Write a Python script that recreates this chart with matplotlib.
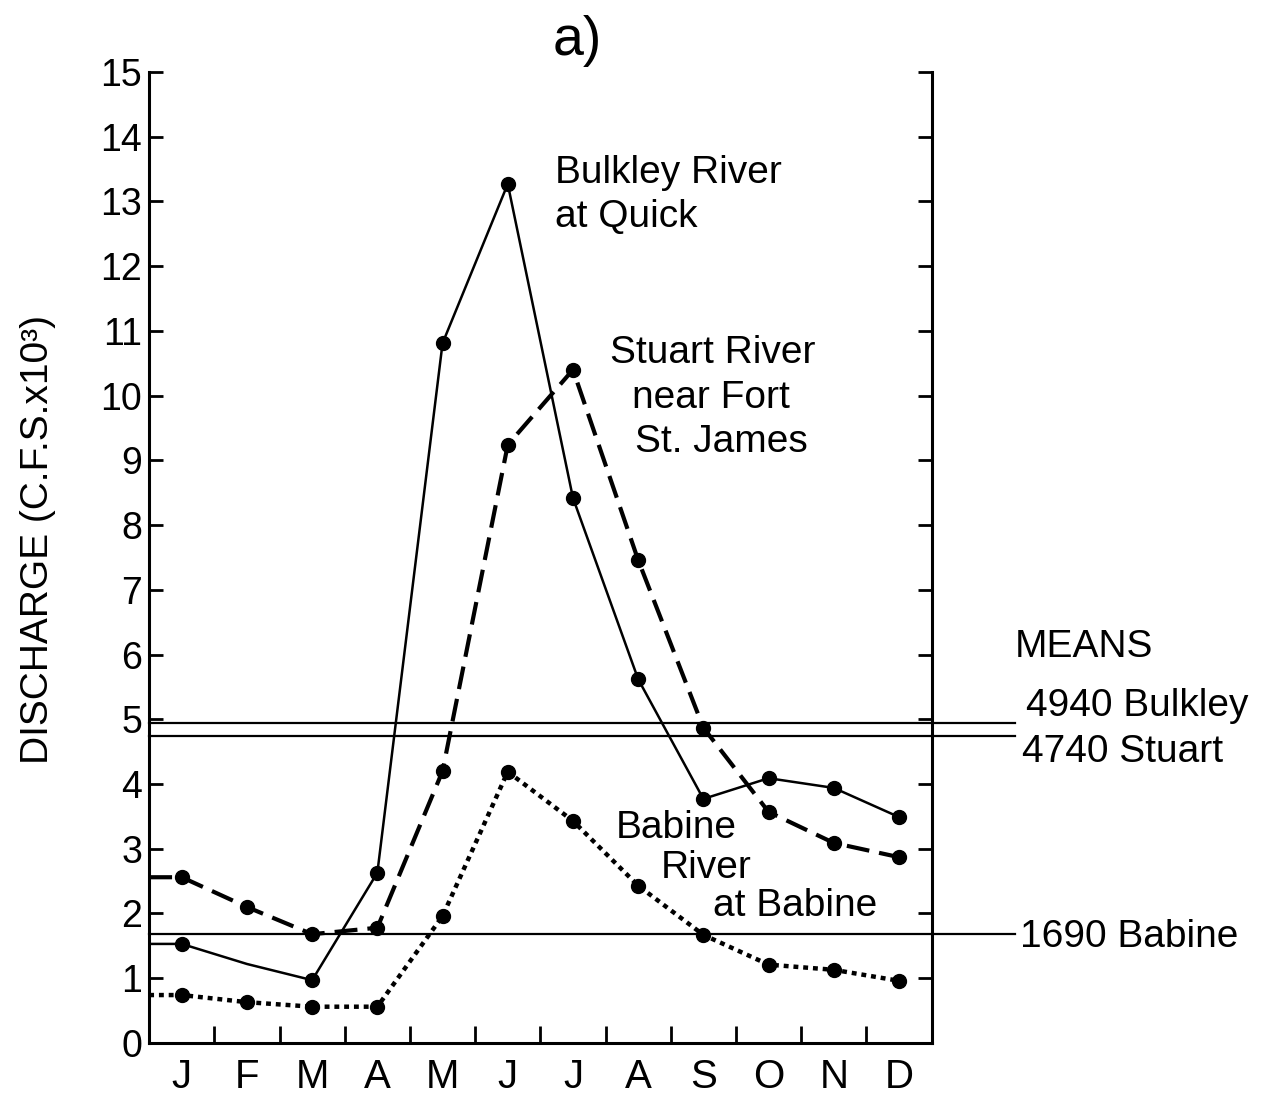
import matplotlib.pyplot as plt
import numpy as np

# -- Data ------------------------------------------------------------------
months = ["J", "F", "M", "A", "M", "J", "J", "A", "S", "O", "N", "D"]

bulkley = [1.53, 1.22, 0.97, 2.63, 10.81, 13.27, 8.42, 5.62, 3.77, 4.09, 3.94, 3.49]
stuart = [2.56, 2.10, 1.68, 1.78, 4.20, 9.24, 10.40, 7.46, 4.87, 3.57, 3.09, 2.87]
babine = [0.74, 0.63, 0.56, 0.56, 1.96, 4.19, 3.43, 2.43, 1.67, 1.21, 1.13, 0.96]

mean_values = [4.94, 4.74, 1.69]
mean_labels = ["4940 Bulkley", "4740 Stuart", "1690 Babine"]

# -- Style -----------------------------------------------------------------
plt.rcParams['font.family'] = ['Liberation Sans', 'DejaVu Sans']
FS = 28

fig = plt.figure(figsize=(12.64, 10.99), dpi=100)
ax = fig.add_axes([0.118, 0.051, 0.619, 0.8835])

x = np.arange(len(months))
x_start = -0.5


def draw_series(vals, dashes, lw, skip=None):
    """line from the left spine through all monthly points"""
    xs = np.concatenate([[x_start], x])
    ys = np.concatenate([[vals[0]], vals])
    marks = [i for i in range(1, len(xs)) if skip is None or (i - 1) not in skip]
    ax.plot(xs, ys, color='black', lw=lw, dashes=dashes, marker='o',
            markersize=10, markevery=marks, solid_capstyle='butt',
            dash_capstyle='butt', clip_on=False)


draw_series(bulkley, (), 1.8, skip=[1])
draw_series(stuart, (5.5, 2.4), 3.0)
draw_series(babine, (1.1, 1.1), 3.2)

# mean lines extend past the right spine
for v in mean_values:
    ax.plot([x_start, 12.78], [v, v], color='black', lw=1.6, clip_on=False)

ax.text(12.77, 6.12, "MEANS", fontsize=FS, va='center', ha='left')
ax.text(12.95, 5.21, mean_labels[0], fontsize=FS, va='center', ha='left')
ax.text(12.88, 4.50, mean_labels[1], fontsize=FS, va='center', ha='left')
ax.text(12.85, 1.64, mean_labels[2], fontsize=FS, va='center', ha='left')

# river labels
ax.text(5.73, 13.44, "Bulkley River", fontsize=FS, va='center', ha='left')
ax.text(5.73, 12.76, "at Quick", fontsize=FS, va='center', ha='left')
ax.text(8.15, 10.66, "Stuart River", fontsize=FS, va='center', ha='center')
ax.text(8.12, 9.97, "near Fort", fontsize=FS, va='center', ha='center')
ax.text(8.27, 9.28, "St. James", fontsize=FS, va='center', ha='center')
ax.text(6.65, 3.32, "Babine", fontsize=FS, va='center', ha='left')
ax.text(7.34, 2.70, "River", fontsize=FS, va='center', ha='left')
ax.text(8.15, 2.12, "at Babine", fontsize=FS, va='center', ha='left')

fig.text(0.457, 0.963, "a)", fontsize=40, ha='center', va='center')

# -- Axes ------------------------------------------------------------------
ax.set_xlim(-0.5, 11.5)
ax.set_ylim(0, 15)
ax.spines['top'].set_visible(False)
for s in ['left', 'right', 'bottom']:
    ax.spines[s].set_linewidth(2.2)

ax.set_xticks(x)
ax.set_xticklabels(months, fontsize=29)
ax.set_xticks(np.arange(0.5, 11, 1), minor=True)
ax.tick_params(axis='x', which='major', length=0, pad=11)
ax.tick_params(axis='x', which='minor', direction='in', length=12, width=2)

ax.set_yticks(np.arange(0, 16, 1))
ax.tick_params(axis='y', which='major', direction='in', left=True, right=True,
               length=10, width=2, labelsize=27, pad=5)

ax.set_ylabel("DISCHARGE (C.F.S.x10³)", fontsize=28)
ax.yaxis.set_label_coords(-0.119, 0.518)

fig.savefig("out.png", dpi=100, facecolor='white')
